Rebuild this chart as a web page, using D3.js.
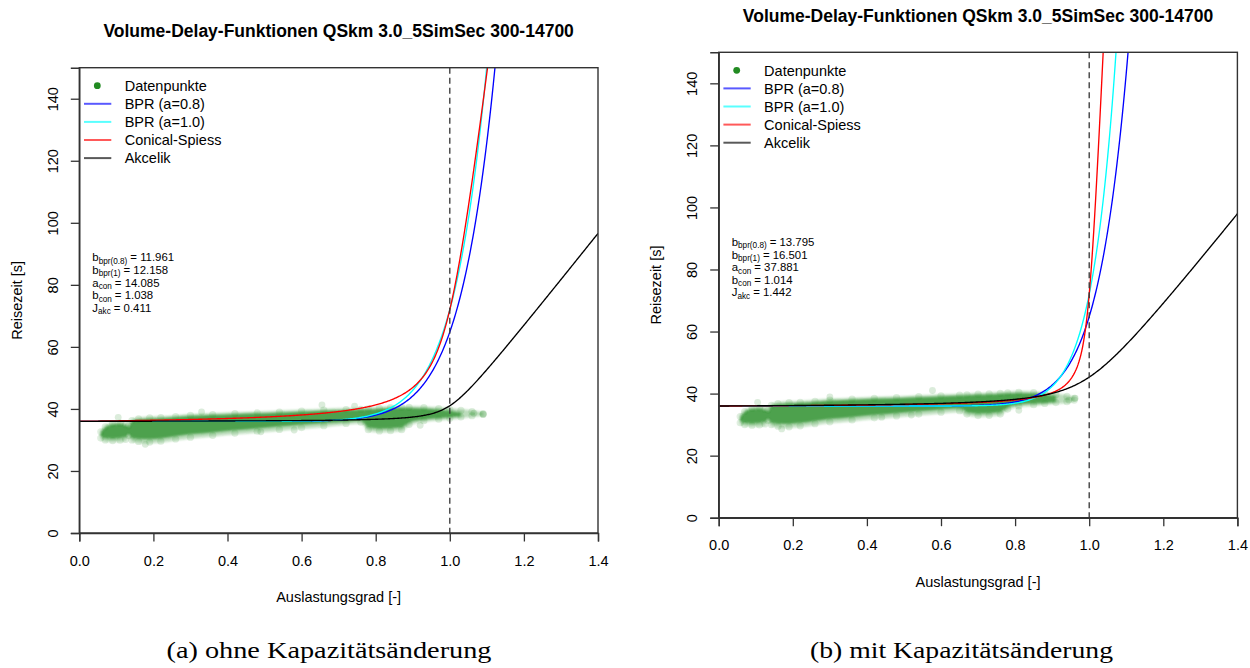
<!DOCTYPE html>
<html><head><meta charset="utf-8">
<script src="https://cdn.jsdelivr.net/npm/d3@7"></script>
<style>
html,body{margin:0;padding:0;background:#fff;}
svg{display:block;}
text{font-family:"Liberation Sans",Arial,sans-serif;fill:#000;}
.cap{font-family:"Liberation Serif","DejaVu Serif",serif;}
</style></head><body>
<svg id="chart" width="1250" height="668"></svg>
<script>
// ---------- data ----------
const titleText = "Volume-Delay-Funktionen QSkm 3.0_5SimSec 300-14700";
const captions = ["(a) ohne Kapazitätsänderung", "(b) mit Kapazitätsänderung"];
const xTicks = [0.0, 0.2, 0.4, 0.6, 0.8, 1.0, 1.2, 1.4];
const yTicks = [0, 20, 40, 60, 80, 100, 120, 140];
const legendLabels = ["Datenpunkte", "BPR (a=0.8)", "BPR (a=1.0)", "Conical-Spiess", "Akcelik"];
const curveColors = ["#0000ff", "#00ffff", "#ff0000", "#000000"];

// model parameters (as printed in the panels)
const t0 = 36;
const bprA = [0.8, 1.0];
const bprB = [[11.961, 12.158], [13.795, 16.501]];
const conA = [14.085, 37.881];
const conB = [1.038, 1.014];
const akcJ = [0.411, 1.442];
const akcT = 300;           // period [s]
const akcQ = [2.44, 2.50];  // capacity [veh/s]

// point cloud: x, outer envelope, dense core
const cloudXL   = [0.058,0.07,0.09,0.11,0.125,0.133,0.142,0.16,0.19,0.22,0.26,0.30,0.36,0.42,0.48,0.54,0.60,0.66,0.72,0.76,0.78,0.81,0.84,0.87,0.89,0.93,0.97,1.00,1.03,1.06,1.09];
const outerHiL  = [33.0,34.6,35.6,35.8,35.3,35.0,36.6,37.2,37.5,37.6,37.9,38.3,38.6,38.9,39.1,39.4,39.7,40.0,40.2,40.3,40.4,40.6,40.8,40.9,40.9,40.8,40.5,40.2,39.9,39.5,38.9];
const outerLoL  = [30.2,29.6,29.4,29.5,29.8,31.0,29.6,29.1,28.9,29.2,29.9,30.5,31.1,31.8,32.4,33.0,33.6,34.2,34.9,35.3,32.9,32.5,32.6,32.9,34.6,35.8,36.3,36.6,37.0,37.4,37.8];
const coreHiL   = [32.4,34.0,35.0,35.2,34.6,34.2,35.9,36.5,36.8,37.0,37.3,37.7,38.0,38.3,38.5,38.8,39.1,39.4,39.6,39.7,39.8,40.0,40.2,40.3,40.3,40.1,39.7,39.3,38.8,null,null];
const coreLoL   = [31.2,30.6,30.4,30.6,31.0,32.0,30.7,30.3,30.2,30.5,31.2,31.8,32.4,33.1,33.7,34.3,34.9,35.4,35.9,36.3,34.0,33.6,33.7,34.0,35.6,36.6,37.0,37.3,37.6,null,null];
const outliersL = [[0.105,37.3],[0.178,28.6],[0.49,32.6],[0.655,41.3],[0.743,40.9],[0.92,34.7],[1.065,38.6],[1.09,38.3],[0.33,39.0],[0.58,33.2]];

const cloudXR   = [0.058,0.07,0.09,0.11,0.125,0.133,0.142,0.16,0.19,0.22,0.26,0.30,0.36,0.42,0.48,0.54,0.60,0.65,0.67,0.70,0.73,0.76,0.78,0.81,0.85,0.88,0.91,0.94,0.96];
const outerHiR  = [33.0,34.6,35.6,35.8,35.3,35.0,36.6,37.2,37.5,37.6,37.9,38.3,38.6,38.9,39.1,39.4,39.7,39.9,40.0,40.2,40.3,40.5,40.6,40.8,40.7,40.4,40.0,39.5,38.9];
const outerLoR  = [30.2,29.6,29.4,29.5,29.8,31.0,29.6,29.1,28.9,29.2,29.9,30.5,31.1,31.8,32.4,33.0,33.6,34.1,33.0,32.5,32.6,33.0,34.6,35.6,36.0,36.4,36.7,37.0,37.5];
const coreHiR   = [32.4,34.0,35.0,35.2,34.6,34.2,35.9,36.5,36.8,37.0,37.3,37.7,38.0,38.3,38.5,38.8,39.1,39.3,39.4,39.6,39.7,39.9,40.0,40.1,40.0,39.7,39.2,null,null];
const coreLoR   = [31.2,30.6,30.4,30.6,31.0,32.0,30.7,30.3,30.2,30.5,31.2,31.8,32.4,33.1,33.7,34.3,34.9,35.3,34.1,33.6,33.7,34.1,35.6,36.5,36.8,37.0,37.3,null,null];
const outliersR = [[0.105,37.2],[0.17,28.6],[0.44,32.4],[0.577,41.0],[0.81,34.6],[0.945,37.9],[0.962,38.5],[0.30,38.9],[0.52,33.1]];

const annot = [
  [["b","bpr(0.8)","= 11.961"],["b","bpr(1)","= 12.158"],["a","con","= 14.085"],["b","con","= 1.038"],["J","akc","= 0.411"]],
  [["b","bpr(0.8)","= 13.795"],["b","bpr(1)","= 16.501"],["a","con","= 37.881"],["b","con","= 1.014"],["J","akc","= 1.442"]]
];

// ---------- layout ----------
const panels = [
  {x0:79.3, x1:598.0, yT:67.7, yB:533.0, capX:329, capW:325,
   cloud:{x:cloudXL,oh:outerHiL,ol:outerLoL,ch:coreHiL,cl:coreLoL,out:outliersL}},
  {x0:718.7, x1:1237.4, yT:52.3, yB:517.7, capX:961.5, capW:303,
   cloud:{x:cloudXR,oh:outerHiR,ol:outerLoR,ch:coreHiR,cl:coreLoR,out:outliersR}}
];

const svg = d3.select("#chart");
const defs = svg.append("defs");
const blur = defs.append("filter").attr("id","soft").attr("x","-5%").attr("y","-30%").attr("width","110%").attr("height","160%");
blur.append("feGaussianBlur").attr("stdDeviation",1.1);

const green = "#228B22";
const xs = d3.range(0, 1.4001, 0.0025);

panels.forEach((p, i) => {
  const x = d3.scaleLinear().domain([0, 1.4]).range([p.x0, p.x1]);
  const y = d3.scaleLinear().domain([0, 150]).range([p.yB, p.yT]);
  const g = svg.append("g");
  const clipId = "clip" + i;
  defs.append("clipPath").attr("id", clipId).append("rect")
    .attr("x", p.x0).attr("y", p.yT).attr("width", p.x1 - p.x0).attr("height", p.yB - p.yT);

  // title
  g.append("text").attr("x", (p.x0 + p.x1) / 2).attr("y", p.yT - 30.3)
    .attr("text-anchor", "middle").attr("font-weight", "bold").attr("font-size", 17.5)
    .text(titleText);

  // cloud
  const c = p.cloud;
  const idx = d3.range(c.x.length);
  const cg = g.append("g").attr("clip-path", `url(#${clipId})`);
  const outerArea = d3.area().curve(d3.curveMonotoneX)
    .x(k => x(c.x[k])).y0(k => y(c.ol[k])).y1(k => y(c.oh[k]));
  cg.append("path").attr("d", outerArea(idx)).attr("fill", green).attr("fill-opacity", 0.3)
    .attr("filter", "url(#soft)");
  const rim = idx.flatMap(k => [[c.x[k], c.oh[k] - 0.4], [c.x[k], c.ol[k] + 0.4]]);
  cg.selectAll("circle.rim").data(rim).join("circle").attr("class","rim")
    .attr("cx", d => x(d[0])).attr("cy", d => y(d[1])).attr("r", 3.6)
    .attr("fill", green).attr("fill-opacity", 0.14);
  const coreArea = d3.area().curve(d3.curveMonotoneX).defined(k => c.ch[k] != null)
    .x(k => x(c.x[k])).y0(k => y(c.cl[k])).y1(k => y(c.ch[k]));
  cg.append("path").attr("d", coreArea(idx)).attr("fill", green).attr("fill-opacity", 0.72)
    .attr("filter", "url(#soft)");
  cg.selectAll("circle.out").data(c.out).join("circle").attr("class","out")
    .attr("cx", d => x(d[0])).attr("cy", d => y(d[1])).attr("r", 3.4)
    .attr("fill", green).attr("fill-opacity", 0.16);

  // curves
  const fBpr = (a, b) => v => t0 * (1 + a * Math.pow(v, b));
  const fCon = (a, b) => v => t0 * (2 + Math.sqrt(a*a*(1-v)*(1-v) + b*b) - a*(1-v) - b);
  const fAkc = (J, Q) => v => t0 + 0.25 * akcT * ((v - 1) + Math.sqrt((v-1)*(v-1) + 8*J*v/(Q*akcT)));
  const funcs = [fBpr(bprA[0], bprB[i][0]), fBpr(bprA[1], bprB[i][1]), fCon(conA[i], conB[i]), fAkc(akcJ[i], akcQ[i])];
  const line = d3.line().x(d => x(d[0])).y(d => y(Math.min(d[1], 400)));
  const lg = g.append("g").attr("clip-path", `url(#${clipId})`);
  funcs.forEach((f, k) => {
    lg.append("path").attr("d", line(xs.map(v => [v, f(v)])))
      .attr("fill", "none").attr("stroke", curveColors[k]).attr("stroke-width", 1.35);
  });

  // dashed capacity line
  g.append("line").attr("x1", x(1)).attr("x2", x(1)).attr("y1", p.yT).attr("y2", p.yB)
    .attr("stroke", "#333").attr("stroke-width", 1.3).attr("stroke-dasharray", "6,4");

  // box
  g.append("rect").attr("x", p.x0).attr("y", p.yT).attr("width", p.x1 - p.x0).attr("height", p.yB - p.yT)
    .attr("fill", "none").attr("stroke", "#333").attr("stroke-width", 1.4);

  // axes
  const xa = g.append("g").attr("transform", `translate(0,${p.yB})`)
    .call(d3.axisBottom(x).tickValues(xTicks).tickFormat(d3.format(".1f")).tickSize(8.5).tickPadding(0));
  xa.select(".domain").attr("stroke", "#333").attr("stroke-width", 1.4);
  xa.selectAll(".tick line").attr("stroke", "#333").attr("stroke-width", 1.3);
  xa.selectAll(".tick text").attr("font-size", 14.5).attr("font-family", '"Liberation Sans",Arial,sans-serif')
    .attr("fill", "#000").attr("dy", null).attr("y", 32.7);

  const ya = g.append("g").attr("transform", `translate(${p.x0},0)`)
    .call(d3.axisLeft(y).tickValues(yTicks).tickSize(8.5).tickPadding(0));
  ya.select(".domain").attr("stroke", "#333").attr("stroke-width", 1.4);
  ya.selectAll(".tick line").attr("stroke", "#333").attr("stroke-width", 1.3);
  ya.selectAll(".tick text").attr("font-size", 14.5).attr("font-family", '"Liberation Sans",Arial,sans-serif')
    .attr("fill", "#000").attr("x", null).attr("dy", null).attr("text-anchor", "middle")
    .attr("transform", "translate(-21.4,0) rotate(-90)");

  // axis titles
  g.append("text").attr("x", (p.x0 + p.x1) / 2).attr("y", p.yB + 69.3).attr("text-anchor", "middle")
    .attr("font-size", 14.5).text("Auslastungsgrad [-]");
  g.append("text").attr("transform", `translate(${p.x0 - 57.3},${(p.yT + p.yB) / 2}) rotate(-90)`)
    .attr("text-anchor", "middle").attr("font-size", 14.5).text("Reisezeit [s]");

  // legend
  const leg = g.append("g");
  legendLabels.forEach((lab, k) => {
    const ly = p.yT + 18 + k * 18.1;
    if (k === 0) {
      leg.append("circle").attr("cx", p.x0 + 18).attr("cy", ly).attr("r", 3.4).attr("fill", green);
    } else {
      leg.append("line").attr("x1", p.x0 + 4.7).attr("x2", p.x0 + 32).attr("y1", ly).attr("y2", ly)
        .attr("stroke", curveColors[k - 1]).attr("stroke-width", 2).attr("stroke-opacity", 0.65);
    }
    leg.append("text").attr("x", p.x0 + 45.4).attr("y", ly + 5.2).attr("font-size", 14.5).text(lab);
  });

  // annotation: main symbol, subscript and value as separate pieces
  annot[i].forEach((row, k) => {
    const by = p.yT + 193.6 + k * 12.6;
    let cx = p.x0 + 13;
    const t1 = g.append("text").attr("x", cx).attr("y", by).attr("font-size", 11.4).attr("fill", "#111").text(row[0]);
    cx += t1.node().getComputedTextLength();
    const t2 = g.append("text").attr("x", cx).attr("y", by + 2.4).attr("font-size", 8.2).attr("fill", "#111").text(row[1]);
    cx += t2.node().getComputedTextLength() + 3;
    g.append("text").attr("x", cx).attr("y", by).attr("font-size", 11.4).attr("fill", "#111").text(row[2]);
  });

  // caption
  svg.append("text").attr("class", "cap").attr("x", p.capX - p.capW / 2).attr("y", 657.5)
    .attr("font-size", 22.5).attr("textLength", p.capW).attr("lengthAdjust", "spacingAndGlyphs")
    .text(captions[i]);
});
</script>
</body></html>
